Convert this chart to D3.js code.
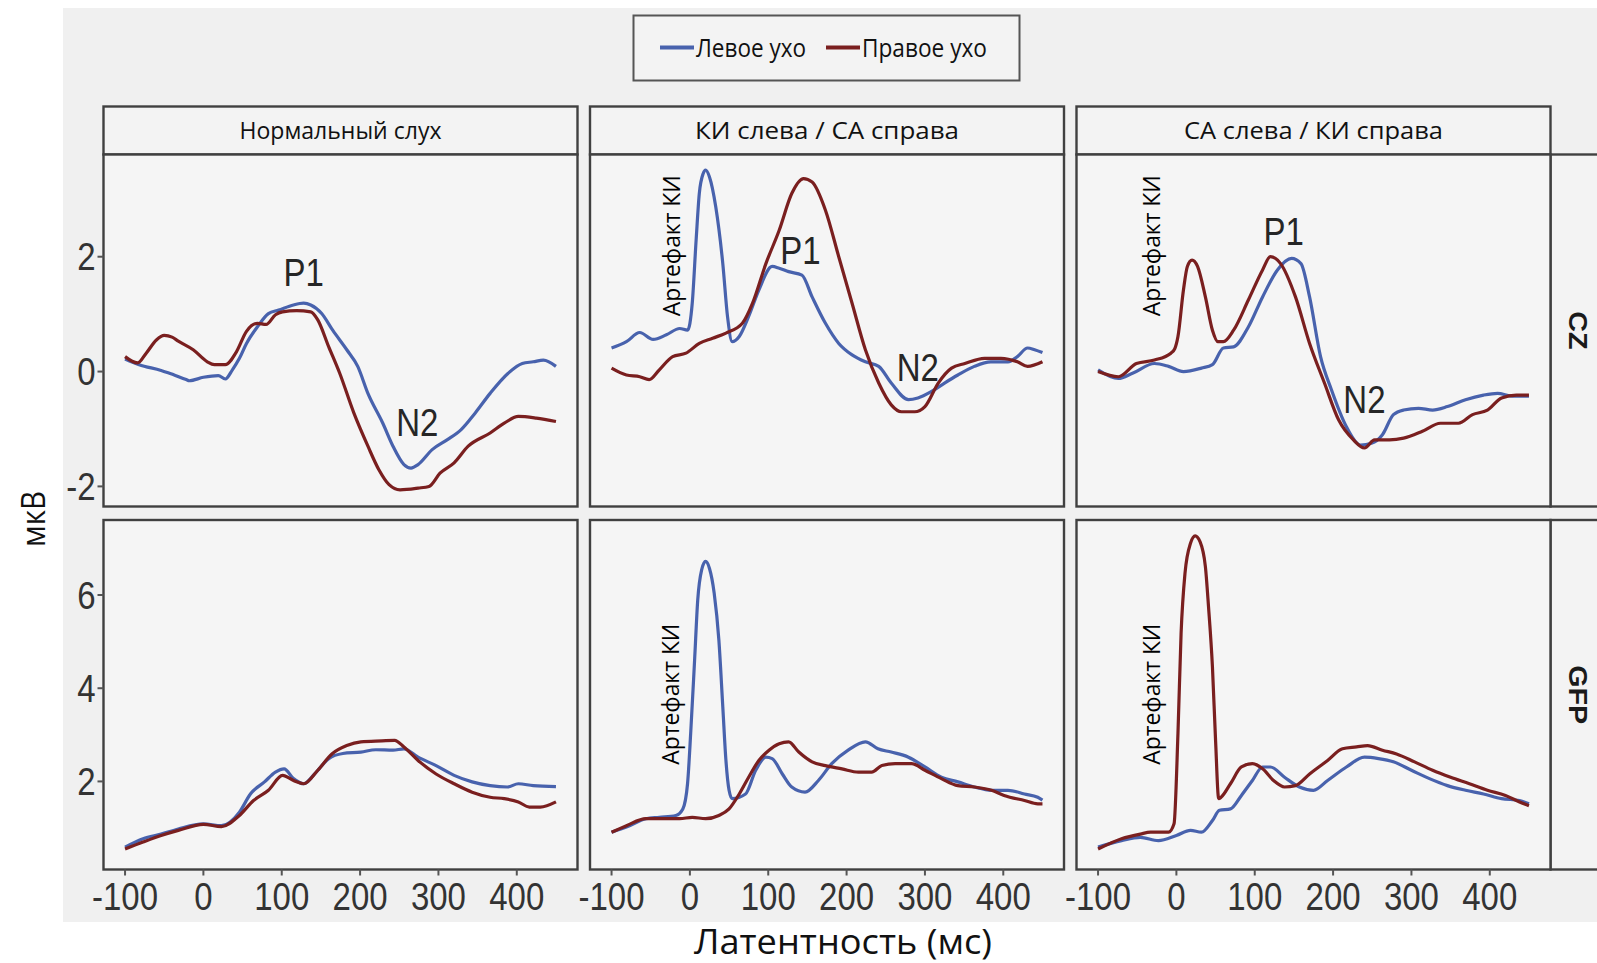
<!DOCTYPE html>
<html>
<head>
<meta charset="utf-8">
<script src="https://cdn.jsdelivr.net/npm/d3@7"></script>
<style>
  body { margin: 0; background: #fff; }
  text.num { font-family: "Liberation Sans", Arial, sans-serif; }
  text.cyr { font-family: "Open Sans", "Noto Sans", sans-serif; }
</style>
</head>
<body>
<svg id="chart" width="1597" height="963"></svg>
<script>
// --- data: [latency ms, value] ---
// CZ row
const normCzLeft = [[-100,0.22],[-82,0.12],[-54,0.02],[-45,-0.02],[-22,-0.14],[-18,-0.16],[0,-0.1],[19,-0.07],[28,-0.13],[37,0.03],[46,0.23],[55,0.49],[69,0.78],[83,1.01],[96,1.07],[115,1.16],[128,1.19],[137,1.16],[151,1.01],[165,0.72],[183,0.38],[197,0.09],[210,-0.38],[229,-0.9],[242,-1.3],[256,-1.62],[265,-1.68],[274,-1.62],[292,-1.36],[311,-1.19],[329,-1.01],[347,-0.72],[366,-0.38],[389,-0.03],[407,0.14],[421,0.17],[434,0.2],[450,0.09]];
const normCzRight = [[-100,0.26],[-84,0.15],[-73,0.32],[-60,0.55],[-50,0.63],[-40,0.6],[-32,0.53],[-13,0.38],[5,0.17],[14,0.12],[28,0.12],[42,0.34],[55,0.7],[69,0.84],[80,0.82],[92,0.99],[101,1.04],[119,1.06],[137,1.04],[146,0.9],[160,0.43],[174,-0.03],[192,-0.72],[210,-1.3],[224,-1.71],[237,-1.97],[251,-2.06],[274,-2.03],[288,-2.0],[302,-1.77],[320,-1.59],[338,-1.3],[366,-1.07],[384,-0.9],[402,-0.78],[425,-0.81],[450,-0.87]];
const ciCzLeft = [[-100,0.41],[-81,0.52],[-64,0.68],[-47,0.56],[-30,0.64],[-13,0.75],[-3,0.72],[3,1.19],[8,2.3],[12,3.1],[17,3.45],[20,3.51],[25,3.39],[33,2.87],[42,1.88],[48,0.96],[54,0.52],[63,0.61],[75,0.96],[88,1.42],[105,1.83],[114,1.8],[126,1.74],[143,1.68],[156,1.3],[173,0.84],[190,0.49],[207,0.29],[224,0.17],[241,0.09],[257,-0.2],[279,-0.49],[291,-0.46],[308,-0.35],[325,-0.2],[342,-0.06],[363,0.09],[384,0.17],[406,0.17],[418,0.26],[431,0.41],[440,0.38],[450,0.33]];
const ciCzRight = [[-100,0.06],[-81,-0.06],[-64,-0.09],[-52,-0.14],[-39,0.03],[-22,0.26],[-5,0.32],[12,0.49],[29,0.58],[46,0.67],[67,0.84],[80,1.19],[97,1.88],[114,2.46],[130,3.1],[145,3.36],[156,3.3],[173,2.81],[190,2.0],[207,1.19],[224,0.38],[241,-0.2],[257,-0.58],[270,-0.7],[287,-0.7],[300,-0.61],[317,-0.2],[334,0.06],[351,0.14],[376,0.23],[397,0.23],[418,0.17],[431,0.09],[450,0.17]];
const saCzLeft = [[-100,0.03],[-74,-0.12],[-56,-0.03],[-28,0.14],[-10,0.09],[9,0],[32,0.06],[46,0.12],[60,0.41],[73,0.43],[92,0.78],[110,1.3],[129,1.77],[147,1.97],[159,1.88],[170,1.3],[184,0.26],[198,-0.32],[217,-0.96],[235,-1.28],[249,-1.25],[263,-1.1],[277,-0.75],[290,-0.67],[309,-0.64],[327,-0.67],[346,-0.61],[369,-0.49],[392,-0.41],[410,-0.38],[429,-0.43],[450,-0.43]];
const saCzRight = [[-100,0],[-74,-0.09],[-51,0.14],[-28,0.2],[-7,0.32],[-2,0.4],[2,0.61],[9,1.42],[14,1.83],[20,1.94],[27,1.83],[37,1.3],[46,0.72],[53,0.52],[60,0.52],[73,0.72],[92,1.25],[110,1.77],[120,2.0],[133,1.88],[152,1.3],[170,0.49],[189,-0.2],[207,-0.84],[226,-1.19],[240,-1.33],[253,-1.19],[272,-1.19],[290,-1.16],[314,-1.04],[337,-0.9],[360,-0.9],[378,-0.75],[397,-0.67],[415,-0.46],[434,-0.41],[450,-0.41]];
// GFP row
const normGfpLeft = [[-100,0.59],[-77,0.77],[-54,0.87],[-32,0.98],[0,1.09],[23,1.05],[46,1.34],[60,1.73],[78,1.99],[92,2.2],[103,2.27],[115,2.06],[128,1.95],[142,2.16],[160,2.49],[178,2.6],[201,2.63],[220,2.68],[242,2.67],[256,2.7],[274,2.52],[297,2.34],[320,2.13],[343,1.99],[366,1.91],[388,1.88],[402,1.95],[421,1.91],[450,1.89]];
const normGfpRight = [[-100,0.55],[-77,0.7],[-54,0.84],[-32,0.95],[0,1.08],[23,1.03],[46,1.27],[64,1.59],[83,1.81],[101,2.13],[115,2.02],[128,1.95],[146,2.24],[164,2.59],[183,2.77],[201,2.85],[228,2.87],[244,2.88],[256,2.74],[274,2.45],[297,2.16],[320,1.95],[343,1.77],[366,1.66],[384,1.63],[402,1.56],[416,1.45],[430,1.45],[450,1.56]];
const ciGfpLeft = [[-100,0.91],[-81,1.02],[-56,1.2],[-39,1.23],[-18,1.27],[-9,1.41],[-3,1.95],[1,3.03],[6,4.6],[10,5.89],[15,6.54],[20,6.72],[25,6.57],[31,6.04],[37,5.03],[42,3.6],[46,2.45],[50,1.81],[54,1.63],[71,1.73],[84,2.24],[97,2.52],[105,2.49],[118,2.16],[130,1.88],[147,1.77],[164,2.02],[181,2.38],[202,2.67],[224,2.85],[240,2.7],[257,2.63],[279,2.52],[300,2.31],[321,2.09],[342,1.99],[363,1.88],[385,1.81],[406,1.81],[427,1.73],[444,1.66],[450,1.6]];
const ciGfpRight = [[-100,0.91],[-81,1.05],[-56,1.2],[-39,1.2],[-13,1.2],[3,1.23],[20,1.2],[37,1.27],[50,1.41],[63,1.73],[75,2.09],[88,2.45],[101,2.67],[114,2.81],[126,2.85],[139,2.63],[156,2.42],[173,2.34],[194,2.27],[215,2.2],[232,2.2],[245,2.34],[262,2.38],[283,2.38],[300,2.24],[321,2.06],[342,1.91],[363,1.88],[385,1.81],[401,1.7],[427,1.59],[444,1.52],[450,1.52]];
const saGfpLeft = [[-100,0.59],[-70,0.73],[-46,0.8],[-23,0.73],[0,0.84],[18,0.95],[32,0.91],[46,1.16],[55,1.38],[69,1.41],[83,1.7],[97,2.02],[110,2.31],[120,2.31],[138,2.09],[157,1.88],[175,1.81],[193,2.02],[217,2.31],[240,2.52],[258,2.49],[277,2.42],[300,2.24],[323,2.06],[346,1.91],[369,1.81],[392,1.73],[415,1.63],[438,1.59],[450,1.52]];
const saGfpRight = [[-100,0.55],[-70,0.77],[-46,0.87],[-33,0.91],[-10,0.91],[-3,1.09],[2,3.03],[6,5.18],[11,6.47],[18,7.11],[24,7.27],[30,7.15],[37,6.61],[41,5.75],[46,4.46],[50,2.88],[54,1.63],[57,1.66],[69,1.95],[83,2.31],[97,2.38],[110,2.27],[124,2.02],[138,1.88],[152,1.91],[170,2.16],[193,2.45],[212,2.7],[230,2.74],[244,2.77],[263,2.67],[281,2.59],[304,2.42],[327,2.24],[350,2.09],[374,1.95],[397,1.81],[420,1.7],[438,1.56],[450,1.48]];

const columnLabels = ["Нормальный слух", "КИ слева / СА справа", "СА слева / КИ справа"];
const rowLabels = ["CZ", "GFP"];
const seriesLabels = ["Левое ухо", "Правое ухо"];
const xTicks = [-100, 0, 100, 200, 300, 400];
const yTicksCz = [-2, 0, 2];
const yTicksGfp = [2, 4, 6];
const xDomain = [-127.5, 477.5];
const yDomainCz = [-2.35, 3.78];
const yDomainGfp = [0.11, 7.61];

// peak labels in data units
const peakLabels = [
  { col: 0, t: 128, v: 1.74, text: "P1" }, { col: 0, t: 273, v: -0.88, text: "N2" },
  { col: 1, t: 141, v: 2.12, text: "P1" }, { col: 1, t: 291, v: 0.09, text: "N2" },
  { col: 2, t: 137, v: 2.46, text: "P1" }, { col: 2, t: 240, v: -0.47, text: "N2" }
];
const artifactLabels = [
  { col: 1, row: 0, t: -24, v: 2.19 }, { col: 2, row: 0, t: -32, v: 2.19 },
  { col: 1, row: 1, t: -25, v: 3.87 }, { col: 2, row: 1, t: -32, v: 3.87 }
];

const grid = [
  [[normCzLeft, normCzRight], [ciCzLeft, ciCzRight], [saCzLeft, saCzRight]],
  [[normGfpLeft, normGfpRight], [ciGfpLeft, ciGfpRight], [saGfpLeft, saGfpRight]]
];

// layout
const colX = [103.5, 590, 1076.5];
const panelW = 474;
const rowTop = [154.5, 520];
const rowBottom = [506.5, 869.5];
const stripTop = 106.5;
const colors = ["#4862ad", "#7a1f1f"];
const frame = "#404040";
const TXT_STRETCH = 1.15;

const svg = d3.select("#chart");

// backdrop
svg.append("rect").attr("x", 63).attr("y", 8).attr("width", 1540).attr("height", 914).attr("fill", "#f0f0f0");

const yScales = [
  d3.scaleLinear().domain(yDomainCz).range([rowBottom[0], rowTop[0]]),
  d3.scaleLinear().domain(yDomainGfp).range([rowBottom[1], rowTop[1]])
];
const yTickSets = [yTicksCz, yTicksGfp];

const line = d3.line().curve(d3.curveMonotoneX);

// top strips
columnLabels.forEach((lab, c) => {
  svg.append("rect")
    .attr("x", colX[c]).attr("y", stripTop)
    .attr("width", panelW).attr("height", rowTop[0] - stripTop)
    .attr("fill", "#f3f3f3").attr("stroke", frame).attr("stroke-width", 2.4);
  svg.append("text").attr("class", "cyr")
    .attr("x", colX[c] + panelW / 2).attr("y", (stripTop + rowTop[0]) / 2)
    .attr("dy", "0.36em").attr("text-anchor", "middle")
    .attr("font-size", 23).attr("fill", "#111")
    .attr("textLength", [202, 264, 259][c]).attr("lengthAdjust", "spacingAndGlyphs")
    .text(lab);
});

// right strips
rowLabels.forEach((lab, r) => {
  svg.append("rect")
    .attr("x", colX[2] + panelW).attr("y", rowTop[r])
    .attr("width", 70).attr("height", rowBottom[r] - rowTop[r])
    .attr("fill", "#f3f3f3").attr("stroke", frame).attr("stroke-width", 2.4);
  svg.append("text").attr("class", "num")
    .attr("transform", `translate(1578,${(rowTop[r] + rowBottom[r]) / 2}) scale(1,${TXT_STRETCH}) rotate(90)`)
    .attr("text-anchor", "middle").attr("dy", "0.36em")
    .attr("font-size", 25).attr("font-weight", "bold").attr("fill", "#1a1a1a")
    .text(lab);
});

// panels
grid.forEach((rowSeries, r) => {
  const y = yScales[r];
  rowSeries.forEach((pair, c) => {
    const x = d3.scaleLinear().domain(xDomain).range([colX[c], colX[c] + panelW]);
    const g = svg.append("g");
    g.append("rect")
      .attr("x", colX[c]).attr("y", rowTop[r])
      .attr("width", panelW).attr("height", rowBottom[r] - rowTop[r])
      .attr("fill", "#f5f5f5");

    line.x(d => x(d[0])).y(d => y(d[1]));
    pair.forEach((s, i) => {
      g.append("path").datum(s)
        .attr("d", line)
        .attr("fill", "none")
        .attr("stroke", colors[i])
        .attr("stroke-width", 3.2)
        .attr("stroke-linejoin", "round");
    });

    if (r === 0) {
      peakLabels.filter(p => p.col === c).forEach(p => {
        g.append("text").attr("class", "num")
          .attr("transform", `translate(${x(p.t)},${y(p.v)}) scale(1,1.2)`)
          .attr("text-anchor", "middle").attr("dy", "0.36em")
          .attr("font-size", 33).attr("fill", "#262626")
          .text(p.text);
      });
    }
    artifactLabels.filter(a => a.col === c && a.row === r).forEach(a => {
      g.append("text").attr("class", "cyr")
        .attr("transform", `translate(${x(a.t)},${y(a.v)}) rotate(-90)`)
        .attr("text-anchor", "middle").attr("dy", "0.36em")
        .attr("font-size", 24).attr("fill", "#000")
        .attr("textLength", 141).attr("lengthAdjust", "spacingAndGlyphs")
        .text("Артефакт КИ");
    });

    g.append("rect")
      .attr("x", colX[c]).attr("y", rowTop[r])
      .attr("width", panelW).attr("height", rowBottom[r] - rowTop[r])
      .attr("fill", "none").attr("stroke", frame).attr("stroke-width", 2.4);

    // x axis on bottom row
    if (r === 1) {
      const ax = g.append("g");
      xTicks.forEach(t => {
        ax.append("line")
          .attr("x1", x(t)).attr("x2", x(t))
          .attr("y1", rowBottom[r]).attr("y2", rowBottom[r] + 6)
          .attr("stroke", "#555").attr("stroke-width", 2);
        ax.append("text").attr("class", "num")
          .attr("transform", `translate(${x(t)},910) scale(1,${TXT_STRETCH})`)
          .attr("text-anchor", "middle")
          .attr("font-size", 33).attr("fill", "#333")
          .text(t);
      });
    }
    // y axis on first column
    if (c === 0) {
      yTickSets[r].forEach(t => {
        g.append("line")
          .attr("x1", colX[0] - 6).attr("x2", colX[0])
          .attr("y1", y(t)).attr("y2", y(t))
          .attr("stroke", "#555").attr("stroke-width", 2);
        g.append("text").attr("class", "num")
          .attr("transform", `translate(${colX[0] - 8},${y(t)}) scale(1,${TXT_STRETCH})`)
          .attr("text-anchor", "end").attr("dy", "0.36em")
          .attr("font-size", 33).attr("fill", "#333")
          .text(t);
      });
    }
  });
});

// axis titles
svg.append("text").attr("class", "cyr")
  .attr("transform", "translate(33,519) rotate(-90)")
  .attr("text-anchor", "middle").attr("dy", "0.36em")
  .attr("font-size", 32).attr("fill", "#111")
  .attr("textLength", 56).attr("lengthAdjust", "spacingAndGlyphs")
  .text("мкВ");
svg.append("text").attr("class", "cyr")
  .attr("x", 843).attr("y", 954)
  .attr("text-anchor", "middle")
  .attr("font-size", 34).attr("fill", "#111")
  .attr("textLength", 298).attr("lengthAdjust", "spacingAndGlyphs")
  .text("Латентность (мс)");

// legend
const legend = svg.append("g");
legend.append("rect")
  .attr("x", 633.5).attr("y", 15.5).attr("width", 386).attr("height", 65)
  .attr("fill", "#f3f3f3").attr("stroke", "#555").attr("stroke-width", 2);
const legendKeyX = [660, 826];
const legendWidths = [110, 125];
seriesLabels.forEach((lab, i) => {
  legend.append("line")
    .attr("x1", legendKeyX[i]).attr("x2", legendKeyX[i] + 34)
    .attr("y1", 47.5).attr("y2", 47.5)
    .attr("stroke", colors[i]).attr("stroke-width", 4);
  legend.append("text").attr("class", "cyr")
    .attr("x", legendKeyX[i] + 36).attr("y", 47.5).attr("dy", "0.36em")
    .attr("font-size", 25).attr("fill", "#111")
    .attr("textLength", legendWidths[i]).attr("lengthAdjust", "spacingAndGlyphs")
    .text(lab);
});
</script>
</body>
</html>
